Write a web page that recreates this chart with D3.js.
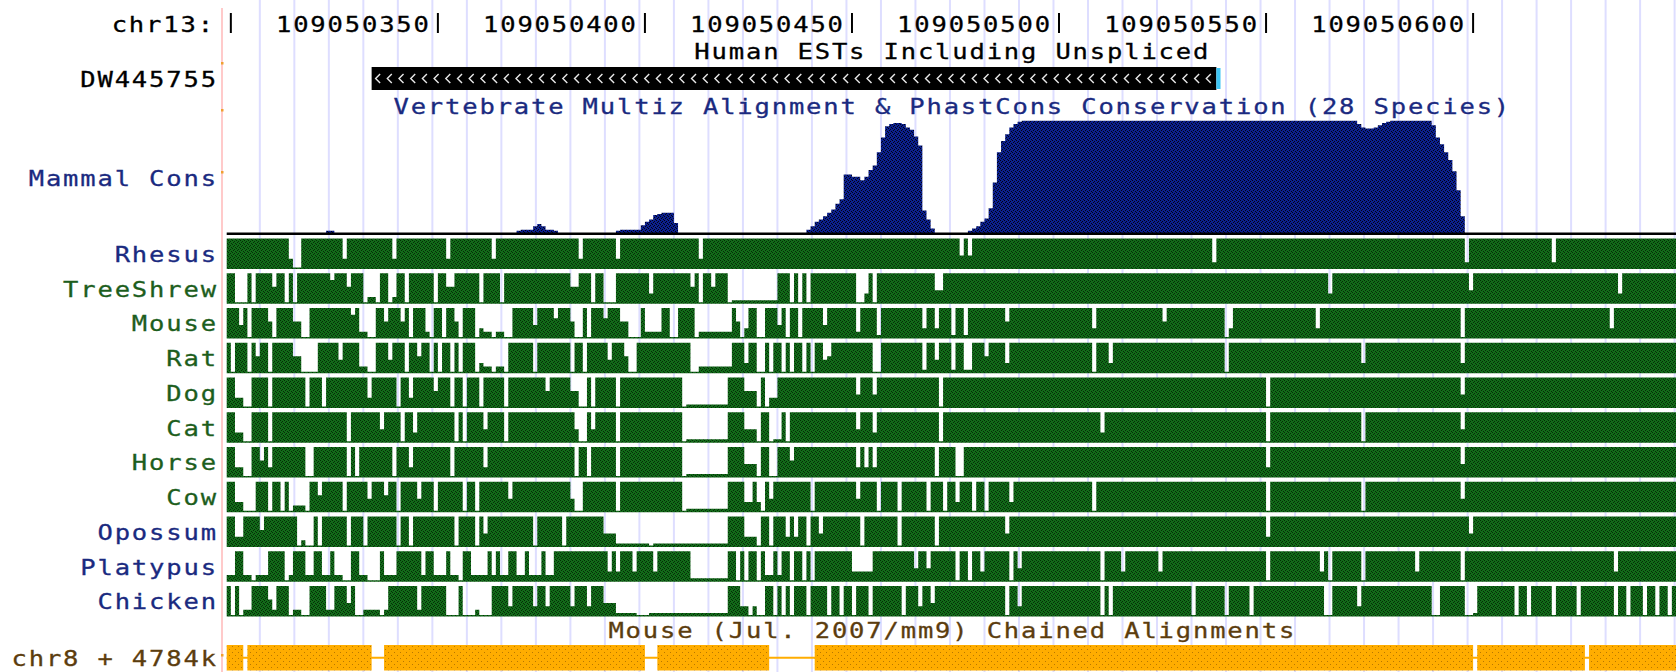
<!DOCTYPE html>
<html>
<head>
<meta charset="utf-8">
<script src="https://cdn.jsdelivr.net/npm/d3@7/dist/d3.min.js"></script>
<style>
  html, body { margin: 0; padding: 0; background: #ffffff; }
  svg { display: block; }
</style>
</head>
<body>
<svg id="browser" width="1679" height="672"></svg>
<script>
// ---------------- data ----------------
const chrom = "chr13:";
const viewStart = 109050299;   // left edge of the first base shown
const viewEnd   = 109050649;   // right edge of the last base shown
const rulerTicks  = [109050300, 109050350, 109050400, 109050450, 109050500, 109050550, 109050600];
const rulerLabels = ["", "109050350", "109050400", "109050450", "109050500", "109050550", "109050600"];

const estTitle = "Human ESTs Including Unspliced";
const estName  = "DW445755";
const estBlock = [109050334, 109050538];
const estTail  = [109050538, 109050539];

const consTitle = "Vertebrate Multiz Alignment & PhastCons Conservation (28 Species)";
const consLabel = "Mammal Cons";
// per-base mammal conservation score (0-100), one row per 50 bases
const mammalCons = [
  0,0,0,0,0,0,0,0,0,0, 0,0,0,0,0,0,0,0,0,0, 0,0,0,0,2,2,0,0,0,0, 0,0,0,0,0,0,0,0,0,0, 0,0,0,0,0,0,0,0,0,0,
  0,0,0,0,0,0,0,0,0,0, 0,0,0,0,0,0,0,0,0,0, 2,3,3,3,6,8,6,3,3,2, 0,0,0,0,0,0,0,0,0,0, 0,0,0,0,2,3,3,3,3,3,
  7,10,12,16,17,18,18,18,9,0, 0,0,0,0,0,0,0,0,0,0, 0,0,0,0,0,0,0,0,0,0, 0,0,0,0,0,0,0,0,0,0, 3,6,10,12,15,18,21,26,30,52,
  52,50,50,47,50,56,60,72,85,95, 97,98,98,97,94,92,86,78,20,12, 4,0,0,0,0,0,0,0,0,2, 4,6,10,13,22,45,72,82,88,94, 97,99,100,100,100,100,100,100,100,100,
  100,100,100,100,100,100,100,100,100,100, 100,100,100,100,100,100,100,100,100,100, 100,100,100,100,100,100,100,100,100,100, 100,100,100,100,100,100,100,100,100,100, 100,100,100,100,100,100,100,100,100,100,
  100,100,100,100,100,100,100,100,100,100, 100,100,100,100,100,100,100,100,100,100, 100,100,100,97,94,93,93,94,96,98, 99,100,100,100,100,100,100,100,100,100, 100,96,85,79,72,65,55,38,15,0,
  0,0,0,0,0,0,0,0,0,0, 0,0,0,0,0,0,0,0,0,0, 0,0,0,0,0,0,0,0,0,0, 0,0,0,0,0,0,0,0,0,0, 0,0,0,0,0,0,0,0,0,0
];

// per-base alignment level for each species (0 = gap ... 9 = full), groups of 10 bases
const species = ["Rhesus", "TreeShrew", "Mouse", "Rat", "Dog", "Cat", "Horse", "Cow", "Opossum", "Platypus", "Chicken"];
const rhesus    = "9999999999 9999930099 9999999939 9999999999 3999999999 9993999999 9999399999 9999999999 9999939999 9999399999 9999999999 9999399999 9999999999 9999999999 9999999999 9999999999 9999999999 9999999494 9999999999 9999999999 9999999999 9999999999 9999999999 9999999929 9999999999 9999999999 9999999999 9999999999 9999999999 9999999992 9999999999 9999999999 2999999999 9999999999 9999999999";
const treeShrew = "9900090999 9599090999 9999979995 9990220990 2990999999 0995599999 9099990999 9999999999 9995599909 9000999999 9939999999 9959099599 9011111111 1119990909 0999999999 9900390999 9999999999 9449999999 9999999999 9999999999 9999999999 9999999999 9999999999 9999999999 9999999999 9999999999 9999993999 9999999999 9999999999 9999999999 4999999999 9999999999 9999999999 9999993999 9999999999";
const mouse     = "9994909999 5099995500 9999999999 7922009959 9959099920 9909950999 0322022009 9999499996 9995009099 9699955000 9222299009 9990222222 2295039900 9994909909 9999499999 9929999199 9999999939 9399919919 9999999959 9999999999 9999999993 9999999999 9999995999 9999999999 9039999999 9999999999 9993999999 9999999999 9999999999 9999999909 9999999999 9999999999 9999999999 9999399999 9999999999";
const rat       = "9099909599 0999995500 0099999499 9922009994 9990995990 9099090999 0322022099 9999099999 9990990999 9949995009 9999999999 9900222222 2299939900 9099090990 9099459999 9999990099 9999999919 9499919911 9995999939 9999999999 9999999990 9993999999 9999999999 9999999999 9099999999 9999999999 9999999999 9999399999 9999999999 9999999939 9999999999 9999999999 9999999999 9999999999 9999999999";
const dog       = "9933009999 0999999990 9990999999 9999399999 9099399999 5999099099 9099999099 9999999599 9995500909 9999099999 9999999999 0111111111 1999955509 0339999999 9999999999 9949994999 9999999999 9909999999 9999999999 9999999999 9999999999 9999999999 9999999999 9999999999 9999999999 9099999999 9999999999 9999999999 9999999999 9999999949 9999999999 9999999999 9999999999 9999999999 9999999999";
const cat       = "9933009999 0999999999 9999999990 9999999499 9909939999 9999909099 9949999099 9999999999 9999400949 9999099999 9999999999 0111111111 1999944409 9011909999 9999999999 9949993999 9999999999 9909999999 9999999999 9999999999 9999999999 9399999999 9999999999 9999999999 9999999999 9099999999 9999999999 9999099999 9999999999 9999999949 9999999999 9999999999 9999999999 9999999999 9999999999";
const horse     = "9933009959 3999999990 0999999990 9099999999 0999399999 9999099999 9939999999 9999999999 9999099099 9999099999 9999999999 0111111111 1999944409 9009995999 9999999999 9939393999 9999999999 9099990099 9999999999 9999999999 9999999999 9999999999 9999999999 9999999999 9999999999 9399999999 9999999999 9999999999 9999999999 9999999949 9999999999 9999999999 9999999999 9999999999 9999999999";
const cow       = "9933000999 0990902220 9959999909 9999499959 9099994999 0999999099 0999999949 9999999999 9994009999 9999099999 9999999999 0111111111 1999933930 9499999999 9099999999 9949999099 9909999990 9990993999 0990999993 9999999999 9999999990 9999999999 9999999999 9999999999 9999999999 9099999999 9999999999 9999099999 9999999999 9999999949 9999999999 9999999999 9999999999 9999999999 9999999999";
const opossum   = "9933999959 9999999020 0909999990 9990999999 9099099999 9999909999 0949999999 9999099999 9099999999 9444111111 1101111111 1111111111 1999933309 9099939399 0994999999 9990999999 9909999999 9099999999 9999999949 9999999999 9999999999 9999999999 9999999999 9999999999 9999999999 9399999999 9999999999 9999999999 9999999999 9999999999 4999999999 9999999999 9999999999 9999999999 9999999999";
const platypus  = "2299220222 9999029992 2992292200 9922000922 2999999299 2229220992 2229292299 2292229229 9999999999 9939399939 9993999999 9911111111 1990909909 2292990990 9099999999 9333339999 9999994994 9999990990 9939999990 9499999999 9999999999 9099993999 9999939999 9999999999 9999999999 9099999999 9999390999 9999099999 9999999399 9999999909 9999999999 9999999999 9999999999 9999939999 9999999999";
const chicken   = "9090229999 5299902200 9999229994 9002222029 9999992999 9990009000 2000999939 9999399399 9993999399 9444111110 0011111111 1111111111 1999330300 9909090999 0999909909 9099909999 9990999399 4999999999 9999999909 9399999999 9999999999 9090999999 9999999999 9990999999 9099999099 9999999999 9999900999 9993999999 9999999999 9009999990 0199999999 9099099999 0999990999 9999909909 9909909909";
const speciesLevels = [rhesus, treeShrew, mouse, rat, dog, cat, horse, cow, opossum, platypus, chicken];

const chainTitle  = "Mouse (Jul. 2007/mm9) Chained Alignments";
const chainLabel  = "chr8 + 4784k";
const chainStarts = [109050299, 109050304, 109050337, 109050403, 109050441, 109050601, 109050628];
const chainEnds   = [109050303, 109050334, 109050400, 109050430, 109050600, 109050627, 109050649];

// ---------------- styles / layout ----------------
const W = 1679, H = 672;
const dataLeft = 226.7, dataRight = 1676;
const labelRight = 216;
const fontFamily = '"DejaVu Sans Mono", "Liberation Mono", monospace';
const fontSize = 22;
const charAdvance = 17.2;      // on-screen advance per character
const glyphStretch = 1.16;     // horizontal widening of the glyphs
const navyText = "#1a2a80", greenText = "#1d5e1d", brownText = "#5c3d0e";
const speciesTextColor = {
  Rhesus: navyText, TreeShrew: greenText, Mouse: greenText, Rat: greenText, Dog: greenText,
  Cat: greenText, Horse: greenText, Cow: greenText, Opossum: navyText, Platypus: navyText, Chicken: navyText
};
const rowTop0 = 238.5, rowPitch = 34.75, rowH = 30.5;

const svg = d3.select("#browser");
const x = d3.scaleLinear().domain([viewStart, viewEnd]).range([dataLeft, dataRight]);

// ---------------- textures ----------------
const defs = svg.append("defs");
function texture(id, base, dot, size, dots) {
  const p = defs.append("pattern").attr("id", id)
    .attr("patternUnits", "userSpaceOnUse").attr("width", size).attr("height", size);
  p.append("rect").attr("width", size).attr("height", size).attr("fill", base);
  dots.forEach(([dx, dy]) => p.append("rect").attr("x", dx).attr("y", dy)
    .attr("width", 1).attr("height", 1).attr("fill", dot));
}
texture("greenTex", "#126a19", "#052c07", 4, [[0, 0], [2, 1], [1, 2], [3, 3]]);
texture("navyTex", "#0c2090", "#01030f", 4, [[0, 0], [2, 1], [1, 2], [3, 3]]);
texture("orangeTex", "#ffad00", "#b87800", 6, [[1, 1], [4, 4]]);

// ---------------- base-position guidelines ----------------
const guideStep = 50 / 6;
const guides = d3.range(viewStart + 8, viewEnd, guideStep);
svg.append("g").selectAll("line").data(guides).join("line")
  .attr("x1", d => x(d)).attr("x2", d => x(d))
  .attr("y1", 0).attr("y2", H)
  .attr("stroke", "#dedeff").attr("stroke-width", 2);

// left edge marker
svg.append("line").attr("x1", 222).attr("x2", 222).attr("y1", 8).attr("y2", H)
  .attr("stroke", "#ffb8b8").attr("stroke-width", 1.5);
svg.append("g").selectAll("rect").data([63, 110, 172, 655]).join("rect")
  .attr("x", 221).attr("y", d => d - 1).attr("width", 2.5).attr("height", 2.5).attr("fill", "#f0a030");

// ---------------- text helper ----------------
function label(txt, xx, yy, anchor, color) {
  const textAdvance = charAdvance / glyphStretch;
  const ls = textAdvance - fontSize * 0.602;          // extra spacing in text units
  const trail = ls * glyphStretch;                     // trailing gap on screen
  let tx = xx;
  if (anchor === "end") tx = xx + trail;
  else if (anchor === "middle") tx = xx + trail / 2;
  svg.append("text")
    .attr("transform", `translate(${tx},${yy}) scale(${glyphStretch},1)`)
    .attr("text-anchor", anchor).attr("fill", color)
    .attr("stroke", color).attr("stroke-width", 0.3)
    .style("font-family", fontFamily).style("font-size", fontSize + "px")
    .style("letter-spacing", ls + "px")
    .text(txt);
}
const centerX = (dataLeft + dataRight) / 2;

// ---------------- ruler ----------------
label(chrom, 213, 32, "end", "#000");
svg.append("g").selectAll("line").data(rulerTicks).join("line")
  .attr("x1", d => x(d)).attr("x2", d => x(d)).attr("y1", 13).attr("y2", 33)
  .attr("stroke", "#000").attr("stroke-width", 2);
rulerTicks.forEach((t, i) => { if (rulerLabels[i]) label(rulerLabels[i], x(t) - 9, 32, "end", "#000"); });

// ---------------- EST track ----------------
label(estTitle, centerX, 59, "middle", "#000");
label(estName, labelRight, 87, "end", "#000");
const estY0 = 67, estY1 = 90;
svg.append("rect").attr("x", x(estBlock[0])).attr("y", estY0)
  .attr("width", x(estBlock[1]) - x(estBlock[0])).attr("height", estY1 - estY0).attr("fill", "#000");
svg.append("rect").attr("x", x(estTail[0])).attr("y", estY0 + 1)
  .attr("width", x(estTail[1]) - x(estTail[0])).attr("height", estY1 - estY0 - 2).attr("fill", "#3cc4f4");
const chevronStep = 11.7 / ((dataRight - dataLeft) / (viewEnd - viewStart));
const chevrons = d3.range(estBlock[0] + 0.6, estBlock[1] - 1.5, chevronStep);
const ym = (estY0 + estY1) / 2;
svg.append("g").selectAll("path").data(chevrons).join("path")
  .attr("d", d => { const cx = x(d); return `M${cx + 6},${ym - 4.5} L${cx + 1.5},${ym} L${cx + 6},${ym + 4.5}`; })
  .attr("fill", "none").attr("stroke", "#e8e8e8").attr("stroke-width", 1.4);

// ---------------- conservation ----------------
label(consTitle, centerX, 114, "middle", navyText);
label(consLabel, labelRight, 186, "end", navyText);
const consBase = 233, consTop = 120.7;
const yCons = d3.scaleLinear().domain([0, 100]).range([consBase, consTop]);
const consPts = mammalCons.map((v, i) => ({ p: viewStart + i, v }));
consPts.push({ p: viewStart + mammalCons.length, v: mammalCons[mammalCons.length - 1] });
svg.append("path").datum(consPts)
  .attr("d", d3.area().x(d => x(d.p)).y0(consBase).y1(d => yCons(d.v)).curve(d3.curveStepAfter))
  .attr("fill", "url(#navyTex)");
svg.append("rect").attr("x", dataLeft).attr("y", 232.5).attr("width", dataRight - dataLeft).attr("height", 2.5).attr("fill", "#000");

// ---------------- species rows ----------------
species.forEach((name, r) => {
  const levels = speciesLevels[r].replace(/\s+/g, "").split("").map(Number);
  const top = rowTop0 + r * rowPitch, bottom = top + rowH;
  const yRow = d3.scaleLinear().domain([0, 9]).range([bottom, top]);
  const pts = levels.map((v, i) => ({ p: viewStart + i, v }));
  pts.push({ p: viewStart + levels.length, v: levels[levels.length - 1] });
  svg.append("path").datum(pts)
    .attr("d", d3.area().x(d => x(d.p)).y0(bottom)
      .y1(d => Math.min(yRow(d.v), bottom - 1.5)).curve(d3.curveStepAfter))
    .attr("fill", "url(#greenTex)");
  label(name, labelRight, top + rowH / 2 + 8, "end", speciesTextColor[name]);
});

// ---------------- chain track ----------------
label(chainTitle, centerX, 638, "middle", brownText);
label(chainLabel, labelRight, 666, "end", brownText);
const chainY0 = 645, chainY1 = 670.5, chainMid = (chainY0 + chainY1) / 2;
svg.append("line").attr("x1", x(chainStarts[0])).attr("x2", x(chainEnds[chainEnds.length - 1]))
  .attr("y1", chainMid).attr("y2", chainMid).attr("stroke", "#ffad00").attr("stroke-width", 2);
svg.append("g").selectAll("rect").data(chainStarts.map((s, i) => [s, chainEnds[i]])).join("rect")
  .attr("x", d => x(d[0])).attr("y", chainY0)
  .attr("width", d => x(d[1]) - x(d[0])).attr("height", chainY1 - chainY0)
  .attr("fill", "url(#orangeTex)");
</script>
</body>
</html>
